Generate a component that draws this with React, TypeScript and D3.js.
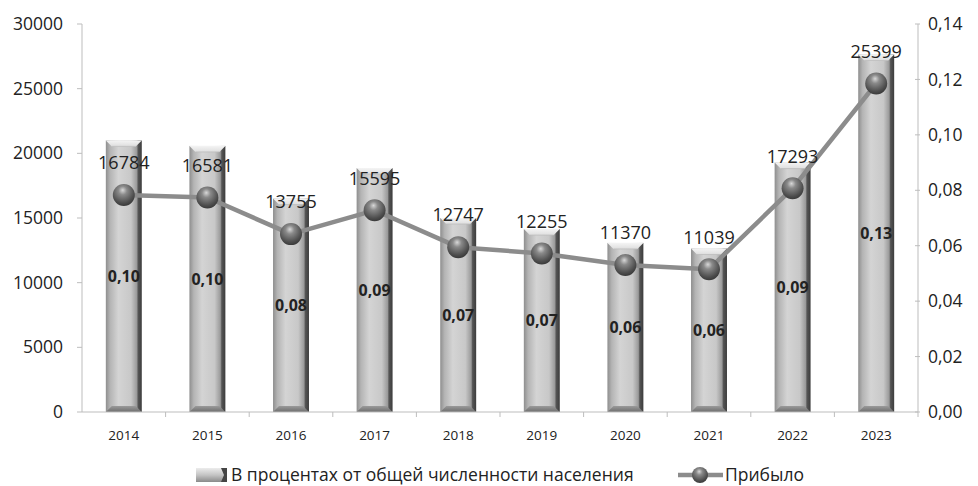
import React from "react";
import * as d3 from "d3";

const years = ["2014", "2015", "2016", "2017", "2018", "2019", "2020", "2021", "2022", "2023"];
const percentValues = [0.098, 0.096, 0.077, 0.088, 0.07, 0.066, 0.061, 0.059, 0.09, 0.129];
const arrivedValues = [16784, 16581, 13755, 15595, 12747, 12255, 11370, 11039, 17293, 25399];
const leftTicks = [0, 5000, 10000, 15000, 20000, 25000, 30000];
const rightTicks = [0, 0.02, 0.04, 0.06, 0.08, 0.1, 0.12, 0.14];
const seriesNames = ["В процентах от общей численности населения", "Прибыло"];

const W = 978;
const H = 486;
const M = { left: 82, right: 918, top: 24, bottom: 412 };
const FONT = "'Open Sans', 'Noto Sans', sans-serif";

export default function App() {
  const x = d3.scaleBand<string>().domain(years).range([M.left, M.right]).paddingInner(0.57).paddingOuter(0.285);
  const xc = d3.scaleBand<string>().domain(years).range([M.left, M.right]);
  const yL = d3.scaleLinear().domain([0, 30000]).range([M.bottom, M.top]);
  const yR = d3.scaleLinear().domain([0, 0.14]).range([M.bottom, M.top]);
  const line = d3
    .line<number>()
    .x((_, i) => (xc(years[i]) as number) + xc.bandwidth() / 2)
    .y((d) => yL(d));
  const fmtR = (v: number) => v.toFixed(2).replace(".", ",");
  const bw = x.bandwidth();
  const bev = 6;
  const legY = 475;

  return (
    <svg width={W} height={H} style={{ position: "absolute", left: 0, top: 0, background: "#fff" }} fontFamily={FONT}>
      <defs>
        <linearGradient id="barG" x1="0" x2="1" y1="0" y2="0">
          <stop offset="0" stopColor="#8e8e8e" />
          <stop offset="0.12" stopColor="#b4b4b4" />
          <stop offset="0.35" stopColor="#d4d4d4" />
          <stop offset="0.7" stopColor="#c8c8c8" />
          <stop offset="0.86" stopColor="#9a9a9a" />
          <stop offset="0.9" stopColor="#555" />
          <stop offset="1" stopColor="#3c3c3c" />
        </linearGradient>
        <linearGradient id="topG" x1="0" x2="0" y1="0" y2="1">
          <stop offset="0" stopColor="#f4f4f4" />
          <stop offset="1" stopColor="#dedede" />
        </linearGradient>
        <linearGradient id="botG" x1="0" x2="0" y1="0" y2="1">
          <stop offset="0" stopColor="#9a9a9a" />
          <stop offset="1" stopColor="#6e6e6e" />
        </linearGradient>
        <radialGradient id="ballG" cx="0.45" cy="0.35" r="0.65" fx="0.45" fy="0.28">
          <stop offset="0" stopColor="#d8d8d8" />
          <stop offset="0.3" stopColor="#8a8a8a" />
          <stop offset="0.8" stopColor="#4e4e4e" />
          <stop offset="1" stopColor="#3a3a3a" />
        </radialGradient>
        <linearGradient id="legBarG" x1="0" x2="0" y1="0" y2="1">
          <stop offset="0" stopColor="#ececec" />
          <stop offset="0.5" stopColor="#c4c4c4" />
          <stop offset="1" stopColor="#8a8a8a" />
        </linearGradient>
      </defs>

      {/* Bars */}
      {percentValues.map((v, i) => {
        const x0 = x(years[i]) as number;
        const yt = yR(v);
        const yb = yR(0);
        return (
          <g key={"b" + i}>
            <rect x={x0} y={yt} width={bw} height={yb - yt} fill="url(#barG)" />
            <polygon
              points={`${x0},${yt} ${x0 + bw},${yt} ${x0 + bw - bev},${yt + bev} ${x0 + bev},${yt + bev}`}
              fill="url(#topG)"
            />
            <polygon
              points={`${x0},${yb} ${x0 + bw},${yb} ${x0 + bw - bev},${yb - bev} ${x0 + bev},${yb - bev}`}
              fill="url(#botG)"
            />
            <line x1={x0 + bev} x2={x0 + bw - bev} y1={yt + bev} y2={yt + bev} stroke="#bcbcbc" strokeWidth={0.8} />
          </g>
        );
      })}

      {/* Axes */}
      <g stroke="#bdbdbd" strokeWidth={1} fill="none">
        <line x1={M.left} x2={M.left} y1={M.top} y2={M.bottom} />
        <line x1={M.right} x2={M.right} y1={M.top} y2={M.bottom} />
        <line x1={M.left} x2={M.right} y1={M.bottom} y2={M.bottom} />
        {leftTicks.map((t) => (
          <line key={"lt" + t} x1={M.left - 5} x2={M.left} y1={yL(t)} y2={yL(t)} />
        ))}
        {rightTicks.map((t) => (
          <line key={"rt" + t} x1={M.right - 3} x2={M.right + 2} y1={yR(t)} y2={yR(t)} />
        ))}
        {years.map((y, i) => (
          <line
            key={"xt" + i}
            x1={(xc(y) as number) + xc.bandwidth()}
            x2={(xc(y) as number) + xc.bandwidth()}
            y1={M.bottom}
            y2={M.bottom + 5}
          />
        ))}
      </g>

      {leftTicks.map((t) => (
        <text key={"ll" + t} x={63} y={yL(t)} dy="0.35em" textAnchor="end" fontSize={17.5} fill="#222">
          {t}
        </text>
      ))}
      {rightTicks.map((t) => (
        <text key={"rl" + t} x={928} y={yR(t)} dy="0.35em" textAnchor="start" fontSize={17.5} fill="#222">
          {fmtR(t)}
        </text>
      ))}
      {years.map((y) => (
        <text
          key={"xl" + y}
          x={(xc(y) as number) + xc.bandwidth() / 2}
          y={435}
          dy="0.35em"
          textAnchor="middle"
          fontSize={13.5}
          fill="#222"
        >
          {y}
        </text>
      ))}

      {/* Bar labels */}
      {percentValues.map((v, i) => (
        <text
          key={"bl" + i}
          x={(x(years[i]) as number) + bw / 2}
          y={(yR(v) + yR(0)) / 2}
          dy="0.35em"
          textAnchor="middle"
          fontSize={16}
          fontWeight="bold"
          fill="#222"
        >
          {fmtR(v)}
        </text>
      ))}

      {/* Line */}
      <path d={line(arrivedValues) || ""} fill="none" stroke="#8c8c8c" strokeWidth={4.5} strokeLinejoin="round" />
      {arrivedValues.map((v, i) => (
        <circle
          key={"c" + i}
          cx={(xc(years[i]) as number) + xc.bandwidth() / 2}
          cy={yL(v)}
          r={11}
          fill="url(#ballG)"
        />
      ))}
      {arrivedValues.map((v, i) => (
        <text
          key={"tl" + i}
          x={(xc(years[i]) as number) + xc.bandwidth() / 2}
          y={yL(v) - 32}
          dy="0.35em"
          textAnchor="middle"
          fontSize={18}
          fill="#222"
        >
          {v}
        </text>
      ))}

      {/* Legend */}
      <g>
        <rect x={196} y={legY - 7} width={31} height={14} fill="url(#legBarG)" />
        <polygon
          points={`${221},${legY - 7} ${227},${legY - 7} ${227},${legY + 7} ${221},${legY + 7} ${224},${legY}`}
          fill="#444"
        />
        <text x={231} y={legY} dy="0.35em" fontSize={17.5} fill="#222">
          {seriesNames[0]}
        </text>
        <line x1={678} x2={723} y1={legY} y2={legY} stroke="#8c8c8c" strokeWidth={4.5} />
        <circle cx={700} cy={legY} r={8} fill="url(#ballG)" />
        <text x={725} y={legY} dy="0.35em" fontSize={17.5} fill="#222">
          {seriesNames[1]}
        </text>
      </g>
    </svg>
  );
}
